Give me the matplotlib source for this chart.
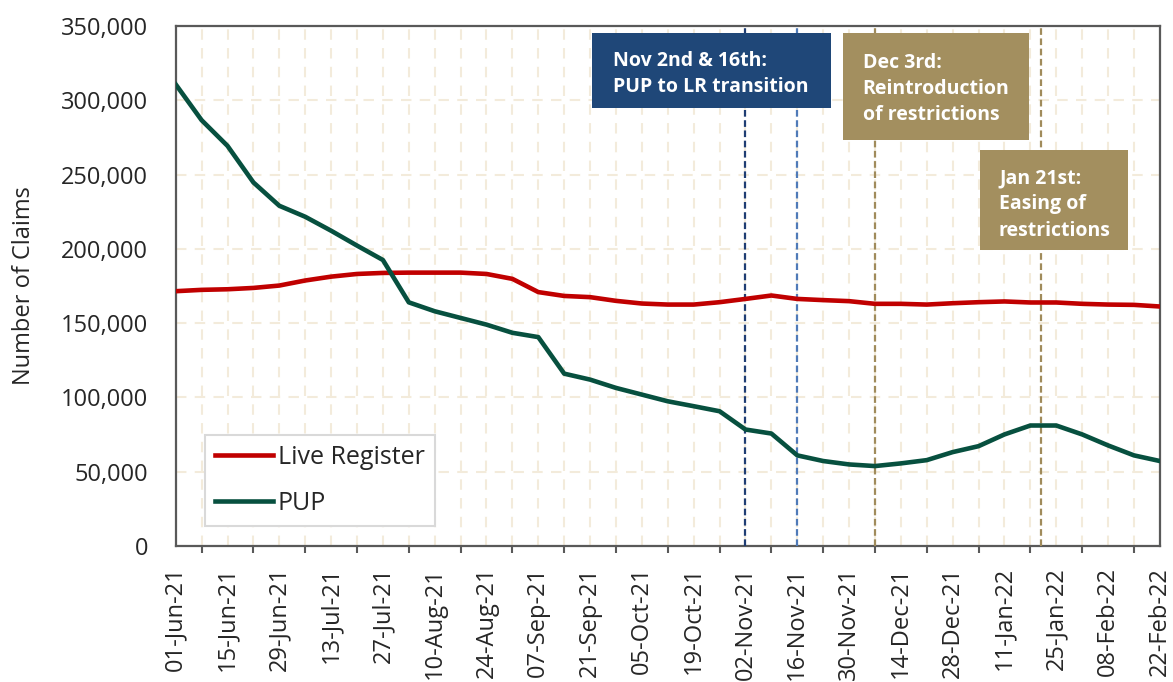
import matplotlib
matplotlib.use("Agg")
import matplotlib.pyplot as plt
import matplotlib.dates as mdates
import matplotlib.patches as patches
from matplotlib.ticker import FuncFormatter, MultipleLocator, FixedLocator
import pandas as pd

plt.rcParams['font.family'] = ['Open Sans', 'DejaVu Sans']

# weekly claims, 01-Jun-21 .. 22-Feb-22
week_start = '2021-06-01'
live_register = [171500, 172400, 172800, 173700, 175300, 178700, 181300, 183100,
                 183800, 184000, 184000, 184000, 183100, 179800, 170900, 168300,
                 167500, 165000, 163200, 162500, 162500, 164100, 166300, 168600,
                 166300, 165500, 164800, 163000, 163000, 162500, 163400, 164100,
                 164600, 163900, 163900, 163000, 162500, 162300, 161200]
pup = [310700, 286600, 269300, 244700, 229000, 221600, 212200, 202200,
       192500, 164000, 158000, 153500, 149000, 143500, 140600, 116000,
       112000, 106400, 101900, 97400, 94100, 90700, 78400, 75700,
       61000, 57200, 54900, 53800, 55600, 57800, 63200, 67200,
       75100, 81100, 81100, 75100, 67700, 61000, 57200]
dates = pd.date_range(week_start, periods=len(pup), freq='7D')

event_dates = ['2021-11-02', '2021-11-16', '2021-12-07', '2022-01-21']
event_colors = ['#1f3d73', '#4f7ab8', '#a08b5b', '#a08b5b']
notes = ["Nov 2nd & 16th:\nPUP to LR transition",
         "Dec 3rd:\nReintroduction\nof restrictions",
         "Jan 21st:\nEasing of\nrestrictions"]
note_colors = ['#1f4778', '#a38f5f', '#a38f5f']

fig = plt.figure(figsize=(11.73, 6.82), dpi=100)
ax = fig.add_axes([0.1498, 0.1994, 0.8390, 0.7625])

ax.plot(dates, live_register, color='#c00000', lw=3.3, label='Live Register', zorder=4)
ax.plot(dates, pup, color='#07503f', lw=3.3, label='PUP', zorder=4)

for d, c in zip(event_dates, event_colors):
    ax.axvline(pd.Timestamp(d), color=c, lw=1.6, ls=(0, (3, 1.6)), zorder=3)

ax.set_xlim(dates[0], dates[-1])
ax.set_ylim(0, 350000)

# x axis: labels every two weeks, tick marks in between
ax.xaxis.set_major_locator(FixedLocator(mdates.date2num(dates[::2])))
ax.xaxis.set_minor_locator(FixedLocator(mdates.date2num(dates[1::2])))
ax.xaxis.set_major_formatter(mdates.DateFormatter('%d-%b-%y'))
ax.tick_params(axis='x', which='major', length=0, pad=15, labelsize=17,
               labelrotation=90, colors='#262626')
ax.tick_params(axis='x', which='minor', length=5, width=1.5, color='#595959',
               direction='out')
for lbl in ax.get_xticklabels():
    lbl.set_verticalalignment('top')

ax.yaxis.set_major_locator(MultipleLocator(50000))
ax.yaxis.set_major_formatter(FuncFormatter(lambda v, p: f'{int(v):,}'))
ax.tick_params(axis='y', length=0, pad=20, labelsize=17, colors='#262626')

ax.grid(axis='x', which='both', color='#f3ebdb', lw=1.5, ls=(0, (5, 4)), zorder=0)
ax.grid(axis='y', which='major', color='#f3ebdb', lw=1.5, ls=(0, (5, 4)), zorder=0)

for s in ax.spines.values():
    s.set_color('#595959')
    s.set_linewidth(1.6)

ax.set_ylabel('Number of Claims', fontsize=17, color='#262626')
ax.yaxis.set_label_coords(-0.142, 0.5)

# annotation boxes (axes fraction)
boxes = [(0.423, 0.842, 0.243, 0.145), (0.678, 0.781, 0.189, 0.206),
         (0.817, 0.569, 0.151, 0.192)]
text_pos = [(0.444, 0.907), (0.698, 0.879), (0.8365, 0.657)]
for (x0, y0, w, h), (tx, ty), txt, c in zip(boxes, text_pos, notes, note_colors):
    ax.add_patch(patches.Rectangle((x0, y0), w, h, transform=ax.transAxes,
                                   facecolor=c, edgecolor='none', zorder=5))
    ax.text(tx, ty, txt, transform=ax.transAxes, color='white', fontsize=14,
            fontweight='bold', ha='left', va='center', linespacing=1.42, zorder=6)

leg = ax.legend(loc='lower left', bbox_to_anchor=(0.030, 0.038), borderaxespad=0,
                fontsize=18, handlelength=2.3, handletextpad=0.2, labelspacing=0.85,
                borderpad=0.4, fancybox=False, framealpha=1)
leg.get_frame().set_edgecolor('#d9d9d9')
leg.get_frame().set_linewidth(1.5)
for t in leg.get_texts():
    t.set_color('#262626')

fig.savefig('out.png', dpi=100)
